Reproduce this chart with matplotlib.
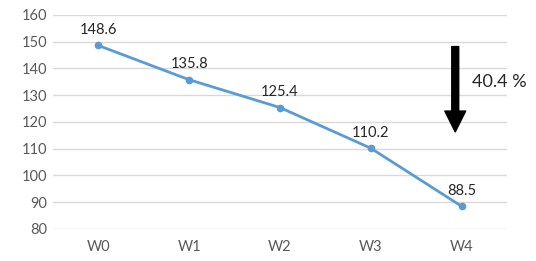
import matplotlib
matplotlib.use('Agg')
import matplotlib.pyplot as plt

weeks = ['W0', 'W1', 'W2', 'W3', 'W4']
values = [148.6, 135.8, 125.4, 110.2, 88.5]
drop_label = '40.4 %'

plt.rcParams['font.family'] = ['Lato', 'DejaVu Sans']

fig = plt.figure(figsize=(5.36, 2.61), dpi=100)
ax = fig.add_axes([53 / 536, 1 - 229 / 261, 454 / 536, 214 / 261])

xs = list(range(len(weeks)))
ax.plot(xs, values, color='#5B9BD5', lw=2, marker='o', ms=4.5, zorder=3)
for x, v in zip(xs, values):
    ax.annotate(f'{v:.1f}', (x, v), xytext=(0, 6), textcoords='offset points',
                ha='center', va='bottom', fontsize=10.5, color='#262626')

ax.set_xlim(-0.5, len(weeks) - 0.5)
ax.set_ylim(80, 160)
ax.set_yticks(range(80, 161, 10))
ax.set_xticks(xs)
ax.set_xticklabels(weeks)
ax.grid(axis='y', color='#D9D9D9', lw=1)
ax.set_axisbelow(True)
for s in ax.spines.values():
    s.set_visible(False)
ax.tick_params(length=0, labelsize=10.5, colors='#595959', pad=8)
ax.tick_params(axis='y', pad=4)

# drop arrow
ax.annotate('', xy=(3.93, 116.3), xytext=(3.93, 148.2),
            arrowprops=dict(facecolor='black', edgecolor='black', width=5,
                            headwidth=15, headlength=15, shrink=0))
ax.text(4.11, 135, drop_label, fontsize=13, color='#262626', va='center', ha='left')

fig.savefig('out.png', dpi=100)
